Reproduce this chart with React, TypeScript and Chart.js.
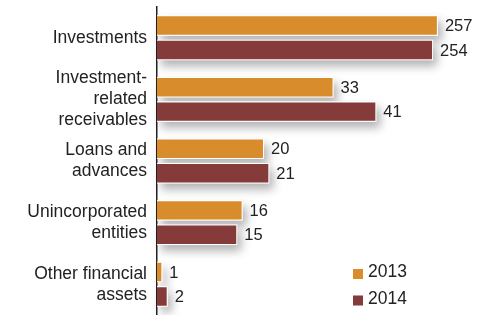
import React, { useEffect, useRef } from 'react';
import { Chart, registerables, LinearScale } from 'chart.js';

Chart.register(...registerables);

const categories: (string | string[])[] = [
  'Investments',
  ['Investment-', 'related', 'receivables'],
  ['Loans and', 'advances'],
  ['Unincorporated', 'entities'],
  ['Other financial', 'assets'],
];
const series2013 = [257, 33, 20, 16, 1];
const series2014 = [254, 41, 21, 15, 2];
const seriesNames = ['2013', '2014'];
const seriesColors = ['#D98C2B', '#843B3A'];

// Broken value axis: values above BREAK_AT are drawn compressed around a pivot
const BREAK_AT = 100;
const BREAK_PIVOT_VALUE = 250;
const BREAK_PIVOT_DRAWN = 50.4;
const BREAK_RATIO = 0.3;
const X_MAX = 60;

const FONT = '"Liberation Sans", Arial, sans-serif';
const TEXT = '#222222';

function squash(v: number) {
  return v > BREAK_AT ? BREAK_PIVOT_DRAWN + (v - BREAK_PIVOT_VALUE) * BREAK_RATIO : v;
}

class BrokenLinearScale extends LinearScale {
  static id = 'brokenLinear';
  static defaults = LinearScale.defaults;
  getPixelForValue(value: number) {
    return super.getPixelForValue(squash(value));
  }
}
Chart.register(BrokenLinearScale as any);

const shadowPlugin = {
  id: 'barShadow',
  beforeDatasetsDraw(chart: any) {
    const ctx = chart.ctx;
    ctx.save();
    ctx.shadowColor = 'rgba(0,0,0,0.30)';
    ctx.shadowBlur = 10;
    ctx.shadowOffsetX = 4;
    ctx.shadowOffsetY = 6;
    ctx.fillStyle = '#ffffff';
    chart.data.datasets.forEach((_d: any, di: number) => {
      const meta = chart.getDatasetMeta(di);
      meta.data.forEach((el: any) => {
        const p = el.getProps(['x', 'y', 'base', 'height'], true);
        const left = Math.min(p.x, p.base);
        const w = Math.abs(p.x - p.base);
        ctx.fillRect(left, p.y - p.height / 2, w, p.height);
      });
    });
    ctx.restore();
  },
};

const labelPlugin = {
  id: 'valueLabels',
  afterDatasetsDraw(chart: any) {
    const ctx = chart.ctx;
    ctx.save();
    ctx.font = `16.5px ${FONT}`;
    ctx.fillStyle = TEXT;
    ctx.textAlign = 'left';
    ctx.textBaseline = 'middle';
    chart.data.datasets.forEach((d: any, di: number) => {
      const meta = chart.getDatasetMeta(di);
      meta.data.forEach((el: any, i: number) => {
        ctx.fillText(String(d.data[i]), el.x + 7, el.y + 1);
      });
    });
    ctx.restore();
  },
};

const legendPlugin = {
  id: 'cornerLegend',
  afterDraw(chart: any) {
    const ctx = chart.ctx;
    ctx.save();
    ctx.font = `17.5px ${FONT}`;
    ctx.textBaseline = 'middle';
    ctx.textAlign = 'left';
    chart.data.datasets.forEach((d: any, i: number) => {
      const cy = 274 + i * 26.5;
      ctx.fillStyle = d.backgroundColor;
      ctx.fillRect(353, cy - 5, 10, 10);
      ctx.fillStyle = TEXT;
      ctx.fillText(d.label, 368, cy - 1.5);
    });
    ctx.restore();
  },
};

export default function App() {
  const ref = useRef<HTMLCanvasElement>(null);
  useEffect(() => {
    if (!ref.current) return;
    const chart = new Chart(ref.current, {
      type: 'bar',
      data: {
        labels: categories as any,
        datasets: [
          { label: seriesNames[0], data: series2013, backgroundColor: seriesColors[0], borderColor: '#ffffff', borderWidth: 1 },
          { label: seriesNames[1], data: series2014, backgroundColor: seriesColors[1], borderColor: '#ffffff', borderWidth: 1 },
        ],
      },
      options: {
        indexAxis: 'y',
        animation: false,
        responsive: true,
        maintainAspectRatio: false,
        layout: { padding: { top: 7, right: 9, bottom: 0, left: 0 } },
        datasets: { bar: { categoryPercentage: 0.794, barPercentage: 0.837 } },
        scales: {
          x: { type: 'brokenLinear' as any, min: 0, max: X_MAX, display: false },
          y: {
            type: 'category',
            grid: { display: false, drawTicks: false, tickLength: 0 },
            border: { display: true, color: TEXT, width: 1.5 },
            ticks: { color: TEXT, font: { family: FONT, size: 17.5 }, padding: 10, autoSkip: false },
            afterFit: (s: any) => {
              s.width = 157;
              s.paddingTop = 0;
              s.paddingBottom = 0;
            },
          },
        },
        plugins: { legend: { display: false }, tooltip: { enabled: false } },
      } as any,
      plugins: [shadowPlugin, labelPlugin, legendPlugin],
    });
    return () => chart.destroy();
  }, []);
  return (
    <div style={{ position: 'absolute', left: 0, top: 0, width: 487, height: 315, background: '#fff' }}>
      <canvas ref={ref} />
    </div>
  );
}
